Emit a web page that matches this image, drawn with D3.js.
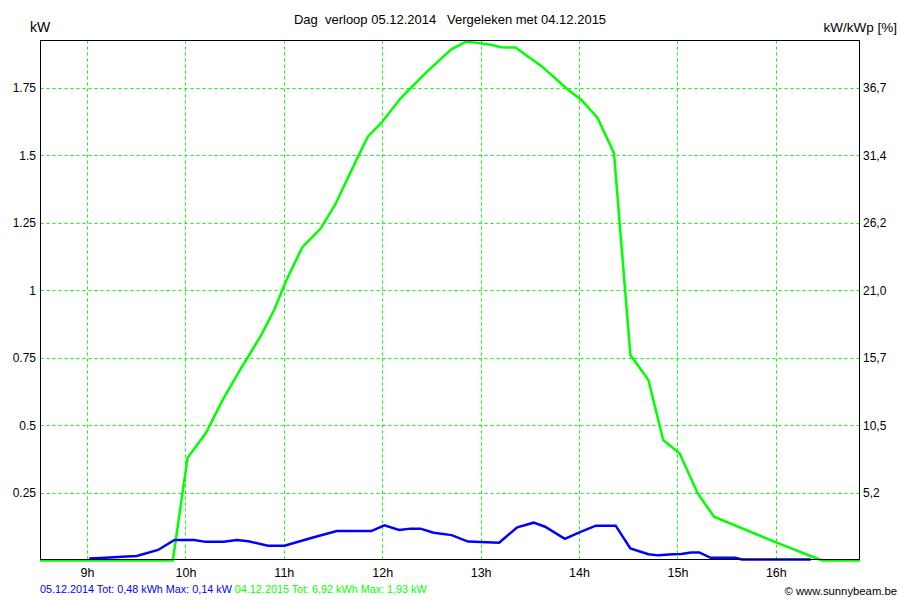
<!DOCTYPE html>
<html><head><meta charset="utf-8">
<script src="https://cdn.jsdelivr.net/npm/d3@7"></script>
<style>
body{margin:0;background:#fff;}
text{font-family:"Liberation Sans",Arial,sans-serif;}
</style></head>
<body><svg id="c" width="900" height="600"></svg>
<script>
// ---- data ----
const titleText = "Dag  verloop 05.12.2014   Vergeleken met 04.12.2015";
const hourTicks = [9,10,11,12,13,14,15,16];
const kwTicks = [0.25,0.5,0.75,1,1.25,1.5,1.75];
const kwTickLabels = ["0.25","0.5","0.75","1","1.25","1.5","1.75"];
const pctTickLabels = ["5,2","10,5","15,7","21,0","26,2","31,4","36,7"];
const blueTimes = ["9:01","9:11","9:21","9:30","9:43","9:53","10:05","10:12","10:23","10:31","10:38","10:50","11:00","11:18","11:32","11:53","12:01","12:10","12:17","12:23","12:31","12:42","12:52","13:11","13:22","13:32","13:39","13:51","14:01","14:10","14:22","14:31","14:42","14:48","14:57","15:02","15:08","15:13","15:20","15:35","15:39","16:21"];
const blueValues = [0.007,0.010,0.014,0.017,0.039,0.076,0.076,0.069,0.069,0.076,0.071,0.055,0.055,0.086,0.109,0.109,0.130,0.113,0.118,0.118,0.103,0.094,0.070,0.066,0.123,0.140,0.125,0.080,0.107,0.129,0.129,0.045,0.023,0.019,0.023,0.024,0.030,0.030,0.010,0.010,0.004,0.004];
const greenTimes = ["8:31","9:52","10:01","10:12","10:22","10:33","10:46","10:54","11:01","11:11","11:22","11:31","11:45","11:51","11:59","12:11","12:27","12:42","12:51","12:54","13:06","13:12","13:21","13:37","13:53","14:01","14:11","14:21","14:31","14:42","14:51","15:01","15:12","15:22","16:01","16:22","16:28","16:51"];
const greenValues = [0,0,0.38,0.47,0.59,0.706,0.835,0.93,1.035,1.16,1.228,1.317,1.496,1.57,1.619,1.712,1.81,1.893,1.921,1.919,1.909,1.90,1.899,1.829,1.743,1.706,1.638,1.508,0.761,0.668,0.446,0.397,0.249,0.162,0.064,0.014,0,0];
const legendBlue = "05.12.2014 Tot: 0,48 kWh Max: 0,14 kW";
const legendGreen = "04.12.2015 Tot: 6,92 kWh Max: 1,93 kW";

// ---- layout ----
const L=40.5, R=859.5, T=40.5, B=559.5;
const toH = s => { const [h,m]=s.split(":").map(Number); return h+m/60; };
const x = d3.scaleLinear().domain([8.522,16.845]).range([L,R]);
const y = d3.scaleLinear().domain([0,1.925]).range([B+1,T]);
const svg = d3.select("#c");
const GREEN="#00ff00", BLUE="#0000ff";

// grid
svg.append("g").selectAll("line").data(hourTicks).join("line")
  .attr("x1",d=>Math.floor(x(d))+0.5).attr("x2",d=>Math.floor(x(d))+0.5)
  .attr("y1",T).attr("y2",B)
  .attr("stroke",GREEN).attr("stroke-width",1).attr("stroke-dasharray","3,3");
svg.append("g").selectAll("line").data(kwTicks).join("line")
  .attr("y1",d=>Math.round(y(d))+0.5).attr("y2",d=>Math.round(y(d))+0.5)
  .attr("x1",L).attr("x2",R)
  .attr("stroke",GREEN).attr("stroke-width",1).attr("stroke-dasharray","3,3");

// lines
const line = d3.line().x(d=>x(d[0])).y(d=>y(d[1]));
svg.append("path").datum(greenTimes.map((t,i)=>[toH(t),greenValues[i]]))
  .attr("d",line).attr("fill","none").attr("stroke",GREEN).attr("stroke-width",2.5);
svg.append("path").datum(blueTimes.map((t,i)=>[toH(t),blueValues[i]]))
  .attr("d",line).attr("fill","none").attr("stroke",BLUE).attr("stroke-width",2.5);

// frame
svg.append("rect").attr("x",L).attr("y",T).attr("width",R-L).attr("height",B-T)
  .attr("fill","none").attr("stroke","#000").attr("stroke-width",1);

// axes labels
svg.append("g").selectAll("text").data(kwTicks).join("text")
  .attr("x",36).attr("y",d=>y(d)+4.5).attr("text-anchor","end")
  .attr("font-size",12).attr("fill","#000").text((d,i)=>kwTickLabels[i]);
svg.append("g").selectAll("text").data(kwTicks).join("text")
  .attr("x",863).attr("y",d=>y(d)+4.5).attr("text-anchor","start")
  .attr("font-size",12).attr("fill","#000").text((d,i)=>pctTickLabels[i]);
svg.append("g").selectAll("text").data(hourTicks).join("text")
  .attr("x",d=>x(d)).attr("y",577).attr("text-anchor","middle")
  .attr("font-size",12.5).attr("fill","#000").text(d=>d+"h");

svg.append("text").attr("x",30).attr("y",32).attr("font-size",14).text("kW");
svg.append("text").attr("x",897).attr("y",32).attr("text-anchor","end").attr("font-size",13.5).text("kW/kWp [%]");
svg.append("text").attr("x",450).attr("y",24).attr("text-anchor","middle").attr("font-size",13)
  .style("white-space","pre").text(titleText);

const leg = svg.append("text").attr("x",40).attr("y",593).attr("font-size",10.8);
leg.append("tspan").attr("fill",BLUE).text(legendBlue+" ");
leg.append("tspan").attr("fill",GREEN).text(legendGreen);
svg.append("text").attr("x",897).attr("y",595).attr("text-anchor","end").attr("font-size",11.3)
  .attr("fill","#000").text("© www.sunnybeam.be");
</script></body></html>
